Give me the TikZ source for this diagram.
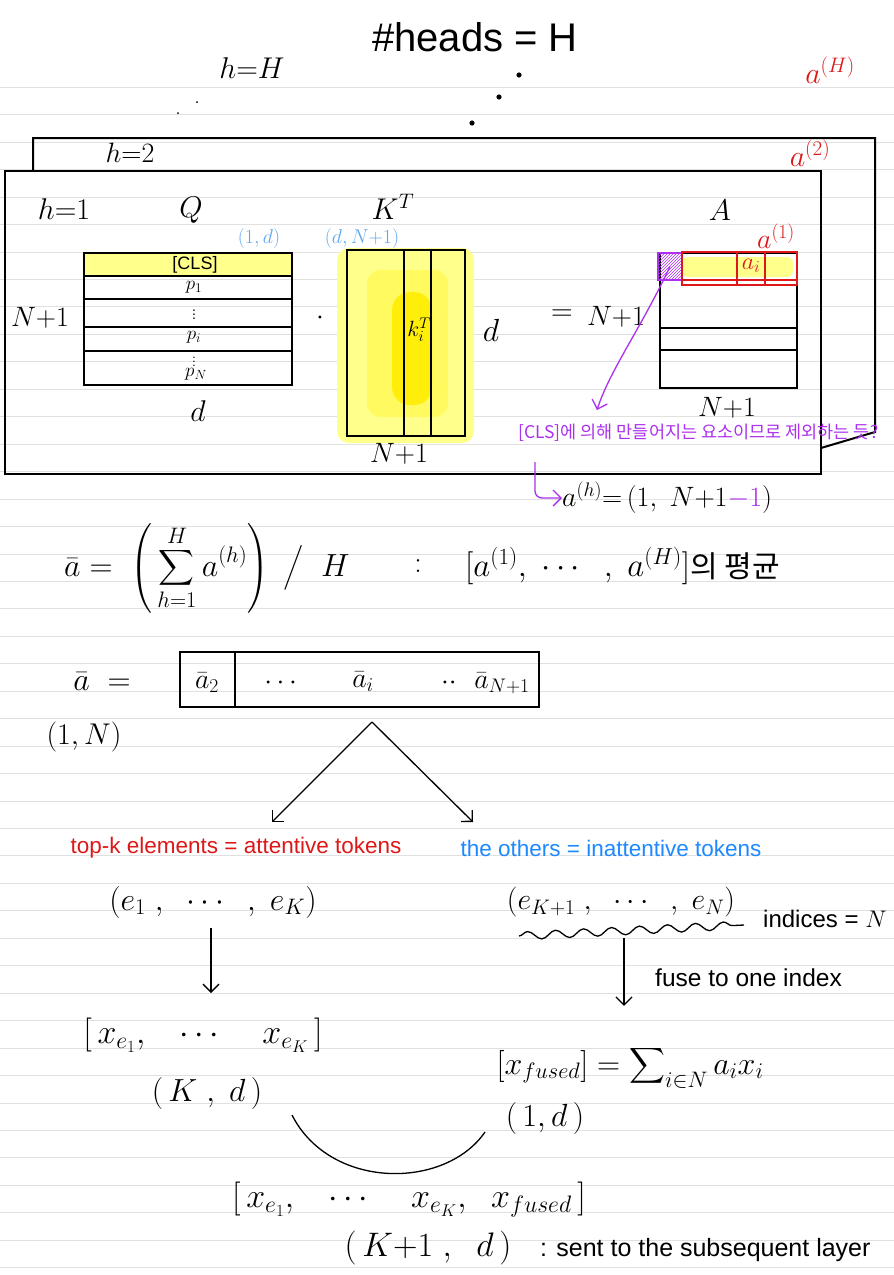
\RequirePackage{fix-cm}
\documentclass[tikz,border=0pt]{standalone}
\usepackage{amsmath}
\usepackage{fontspec}
\setmainfont{Liberation Sans}
\newfontfamily\krfont{Noto Sans CJK KR}
\usepackage{tikz}
\usetikzlibrary{arrows.meta,positioning,calc,decorations.pathmorphing,patterns}
\definecolor{inkred}{RGB}{222,24,24}
\definecolor{inkblue}{RGB}{30,136,255}
\definecolor{skyblue}{RGB}{95,168,240}
\definecolor{inkpurple}{RGB}{172,48,238}
\definecolor{hilite}{RGB}{255,255,140}
\definecolor{hilitemid}{RGB}{255,250,95}
\definecolor{hilitedeep}{RGB}{255,238,10}
\definecolor{ruling}{RGB}{224,224,224}
\newcommand{\fsz}[1]{\fontsize{#1}{#1}\selectfont}

\begin{document}
\begin{tikzpicture}[
    x=1pt, y=-1pt,
    rule/.style={draw=ruling, line width=0.9pt},
    frame/.style={draw, line width=2pt, inner sep=0pt},
    mat/.style={draw, line width=1.6pt, inner sep=0pt},
    lbl/.style={inner sep=0pt, font=\fsz{#1}},
    lbl/.default=28,
    kr/.style={inner sep=0pt, font=\krfont\fsz{#1}},
    ink/.style={-{Straight Barb[length=8pt,width=16pt]}, line width=1.3pt}
]
    \fill[white] (0,0) rectangle (894,1275);
    \useasboundingbox (0,0) rectangle (894,1275);
    \foreach \k in {0,...,43}
        \draw[rule] (0,{87.3+\k*27.45}) -- (894,{87.3+\k*27.45});

    % heads
    \node[lbl=40] (title) at (475,37) {\#heads = H};
    \node[lbl=30] (hH) at (252,68) {$h{=}H$};
    \fill (197,102) circle (1pt) (178,113) circle (1pt);
    \fill (519,75) circle (2.6pt) (499,97) circle (2.6pt) (472,123) circle (2.6pt);
    \node[lbl=30, inkred] (aH) at (830,70) {$a^{(H)}$};

    \draw[frame] (33,171) -- (33,138) -- (875,138) -- (875,432) -- (821,448);
    \node[lbl=28] (h2) at (130,153) {$h{=}2$};
    \node[lbl=30, inkred] (a2) at (810,153) {$a^{(2)}$};

    \node[frame, minimum width=816, minimum height=303] (head1) at (413,322.5) {};
    \node[lbl=30] (h1) at (64,209) {$h{=}1$};
    \node[lbl=30] (Qlbl) at (191,210) {$Q$};
    \node[lbl=30] (KTlbl) at (393,207) {$K^{T}$};
    \node[lbl=30] (Albl) at (720,210) {$A$};
    \node[lbl=28, inkred] (a1) at (776,236) {$a^{(1)}$};
    \node[lbl=20, skyblue] (Qdim) at (259,238) {$(1,d)$};
    \node[lbl=20, skyblue] (Kdim) at (362,238) {$(d,N{+}1)$};

    % Q
    \fill[hilite] (84,253) rectangle (292,276);
    \node[mat, minimum width=208, minimum height=132] (Q) at (188,319) {};
    \draw[line width=2pt] (84,276) -- (292,276);
    \foreach \y in {299,327,351}
        \draw[line width=1.6pt] (84,\y) -- (292,\y);
    \node[lbl=18] (cls) at (195,265) {[CLS]};
    \node[lbl=19] (p1) at (194,287) {$p_1$};
    \node[lbl=14] (pdots) at (194,312) {$\vdots$};
    \node[lbl=19] (pi) at (194,337) {$p_i$};
    \node[lbl=12] (pdots2) at (194,359) {$\vdots$};
    \node[lbl=19] (pN) at (196,374) {$p_N$};
    \node[lbl=28] (Qrows) at (40,318) {$N{+}1$};
    \node[lbl=30] (Qcols) at (198,411) {$d$};
    \node[lbl=28] (dot) at (320,318) {$\cdot$};

    % K^T
    \fill[hilite, rounded corners=12] (337,248) rectangle (474,443);
    \fill[hilitemid, rounded corners=14] (367,270) rectangle (448,417);
    \fill[hilitedeep, rounded corners=18] (392,292) rectangle (432,405);
    \node[mat, minimum width=118, minimum height=186] (KT) at (406,343) {};
    \foreach \x in {404,431}
        \draw[line width=1.6pt] (\x,250) -- (\x,436);
    \node[lbl=22] (ki) at (419,330) {$k_i^{T}$};
    \node[lbl=32] (KTrows) at (491,330) {$d$};
    \node[lbl=28] (KTcols) at (399,454) {$N{+}1$};

    % A
    \node[lbl=30] (eq) at (562,315) {$=$};
    \node[lbl=28] (Arows) at (616,317) {$N{+}1$};
    \fill[hilite, rounded corners=6] (682,257) rectangle (793,277);
    \node[mat, minimum width=137, minimum height=135] (A) at (728.5,320.5) {};
    \foreach \y in {328,350}
        \draw[line width=1.6pt] (660,\y) -- (797,\y);
    \node[draw=inkpurple, line width=1.5pt, pattern=north east lines, pattern color=inkpurple,
          minimum width=24, minimum height=27, inner sep=0pt] (clscell) at (670,266.5) {};
    \draw[inkred, line width=2pt] (682,252) rectangle (797,285);
    \draw[inkred, line width=1.6pt] (682,280) -- (797,280) (737,252) -- (737,285) (765,252) -- (765,285);
    \node[lbl=24, inkred] (ai) at (751,266) {$a_i$};
    \node[lbl=28] (Acols) at (727,408) {$N{+}1$};

    \coordinate (clstip) at (597,410);
    \draw[ink, inkpurple] (clscell.center) .. controls (640,330) and (610,370) .. (clstip);
    \node[kr=17.5, inkpurple, anchor=west] (clsnote) at (518,433) {[CLS]에 의해 만들어지는 요소이므로 제외하는 듯?};

    \node[lbl=28, anchor=west] (ahdim) at (562,498) {$a^{(h)}{=}\,(1,\ N{+}1\textcolor{inkpurple}{-1})$};
    \coordinate (hook) at (535,462);
    \draw[ink, inkpurple, rounded corners=7] (hook) |- (ahdim.west);

    % average
    \node[lbl=32, anchor=west] (avg) at (64,568) {$\displaystyle \bar a = \;\left(\,\sum_{h=1}^{H} a^{(h)}\right)\;\big/\;\; H$};
    \node[lbl=30] (colon) at (418,566) {$:$};
    \node[lbl=33, anchor=west] (avglist) at (465,566) {$[a^{(1)},\ \cdots\ \ ,\ a^{(H)}]$};
    \node[kr=30, anchor=west] (avgko) at (avglist.east) {의 평균};

    \node[lbl=32] (abar) at (102,682) {$\bar a\ =$};
    \node[mat, minimum width=359, minimum height=55] (abox) at (359.5,679.5) {};
    \draw[line width=1.6pt] (235,652) -- (235,707);
    \node[lbl=28] (abar2) at (207,683) {$\bar a_2$};
    \node[lbl=28] (adots) at (283,683) {$\cdots$};
    \node[lbl=28] (abari) at (363,682) {$\bar a_i$};
    \node[lbl=28] (adots2) at (449,683) {$\cdot\cdot$};
    \node[lbl=28] (abarN) at (502,683) {$\bar a_{N+1}$};
    \node[lbl=30] (abardim) at (84,737) {$(1,N)$};

    % split
    \coordinate (apex) at (372,722);
    \coordinate (lefttip) at (272,822);
    \coordinate (righttip) at (473,822);
    \draw[ink] (apex) -- (lefttip);
    \draw[ink] (apex) -- (righttip);
    \node[lbl=22.5, inkred] (topk) at (236,848) {top-k elements = attentive tokens};
    \node[lbl=22.5, inkblue] (others) at (611,848) {the others = inattentive tokens};

    \node[lbl=32] (topvec) at (213,902) {$(e_1\ ,\ \ \cdots\ \ ,\ e_K)$};
    \node[lbl=30] (restvec) at (621,902) {$(e_{K+1}\ ,\ \ \cdots\ \ ,\ e_N)$};
    \coordinate (wavyL) at (519,936);
    \coordinate (wavyR) at (744,925);
    \coordinate (wavymid) at (624,938);
    \draw[line width=1.3pt, decorate, decoration={snake, amplitude=4pt, segment length=28pt}] (wavyL) -- (wavyR);
    \node[lbl=24, anchor=west] (indices) at (763,919) {indices = $N$};

    \node[lbl=34] (xsel) at (203,1035) {$[\,x_{e_1},\ \ \ \cdots\ \ \ \ x_{e_K}\,]$};
    \node[lbl=32] (seldim) at (207,1093) {$(\,K\ ,\ d\,)$};
    \draw[ink] ([yshift=-10pt]topvec.south -| 211,0) -- (211,993);
    \node[lbl=32] (xfused) at (630,1067) {$[x_{\mathnormal{fused}}]=\displaystyle\sum\nolimits_{i\in N} a_i x_i$};
    \node[lbl=32] (fuseddim) at (545,1118) {$(\,1,d\,)$};
    \draw[ink, shorten >=40pt] (wavymid) -- (wavymid |- xfused.north);
    \node[lbl=24.5, anchor=west] (fuse) at (655,978) {fuse to one index};

    % merge
    \coordinate (joinL) at (292,1115);
    \coordinate (joinR) at (485,1132);
    \draw[line width=1.3pt] (joinL) .. controls (330,1190) and (445,1190) .. (joinR);
    \node[lbl=34] (merged) at (409,1200) {$[\,x_{e_1},\ \ \ \cdots\ \ \ \ x_{e_K},\ \ x_{\mathnormal{fused}}\,]$};
    \node[lbl=34] (mergeddim) at (428,1248) {$(\,K{+}1\ ,\ \ d\,)$};
    \node[lbl=25, anchor=west] (sent) at (540,1250) {: sent to the subsequent layer};
\end{tikzpicture}
\end{document}
